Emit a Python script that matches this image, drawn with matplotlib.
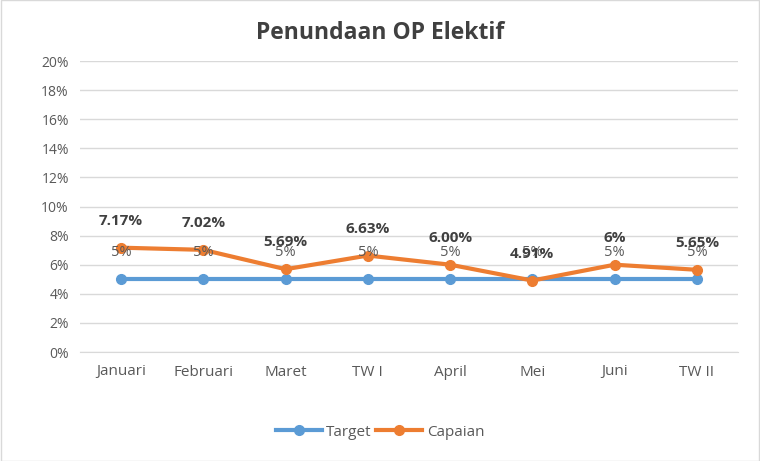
import numpy as np
import matplotlib.pyplot as plt

bulan = ["Januari", "Februari", "Maret", "TW I", "April", "Mei", "Juni", "TW II"]
target = [5, 5, 5, 5, 5, 5, 5, 5]
capaian = [7.17, 7.02, 5.69, 6.63, 6.00, 4.91, 6.0, 5.65]
label_capaian = ["7.17%", "7.02%", "5.69%", "6.63%", "6.00%", "4.91%", "6%", "5.65%"]

plt.rcParams['font.family'] = ['Open Sans', 'DejaVu Sans']

fig = plt.figure(figsize=(7.6, 4.61), dpi=100)
ax = fig.add_axes([80/760, 1 - 352/461, 658/760, 291/461])
x = np.arange(len(bulan))

ax.plot(x, target, color='#5b9bd5', lw=3, marker='o', ms=7, label='Target', zorder=3)
ax.plot(x, capaian, color='#ed7d31', lw=3, marker='o', ms=7, label='Capaian', zorder=4)

for i in range(len(bulan)):
    ax.annotate("5%", (x[i], target[i]), xytext=(0, 27), textcoords='offset pixels',
                ha='center', va='center', fontsize=10.5, color='#595959', zorder=6)
    ax.annotate(label_capaian[i], (x[i], capaian[i]), xytext=(0, 27), textcoords='offset pixels',
                ha='center', va='center', fontsize=11, color='#404040', fontweight='bold', zorder=6)

ax.set_xlim(-0.5, len(bulan) - 0.5)
ax.set_ylim(0, 20)
ax.set_yticks(np.arange(0, 21, 2))
ax.set_yticklabels([f"{v}%" for v in range(0, 21, 2)])
ax.set_xticks(x)
ax.set_xticklabels(bulan)
ax.tick_params(axis='y', length=0, labelsize=10, colors='#595959', pad=8)
ax.tick_params(axis='x', length=0, labelsize=11, colors='#595959', pad=9)
ax.grid(axis='y', color='#d9d9d9', lw=1)
ax.set_axisbelow(True)
for s in ['top', 'right', 'left']:
    ax.spines[s].set_visible(False)
ax.spines['bottom'].set_color('#d9d9d9')

fig.text(0.5, 1 - 33/461, "Penundaan OP Elektif", ha='center', va='center',
         fontsize=16.5, fontweight='bold', color='#404040')

fig.legend(loc='center', bbox_to_anchor=(0.5, 1 - 432/461), ncol=2, frameon=False,
           fontsize=11, labelcolor='#595959', handlelength=3, columnspacing=0.3, handletextpad=0.3)

fig.patches.append(plt.Rectangle((0.001, 0.001), 0.998, 0.998, transform=fig.transFigure,
                                 fill=False, edgecolor='#d9d9d9', lw=1))

fig.savefig("out.png", dpi=100)
